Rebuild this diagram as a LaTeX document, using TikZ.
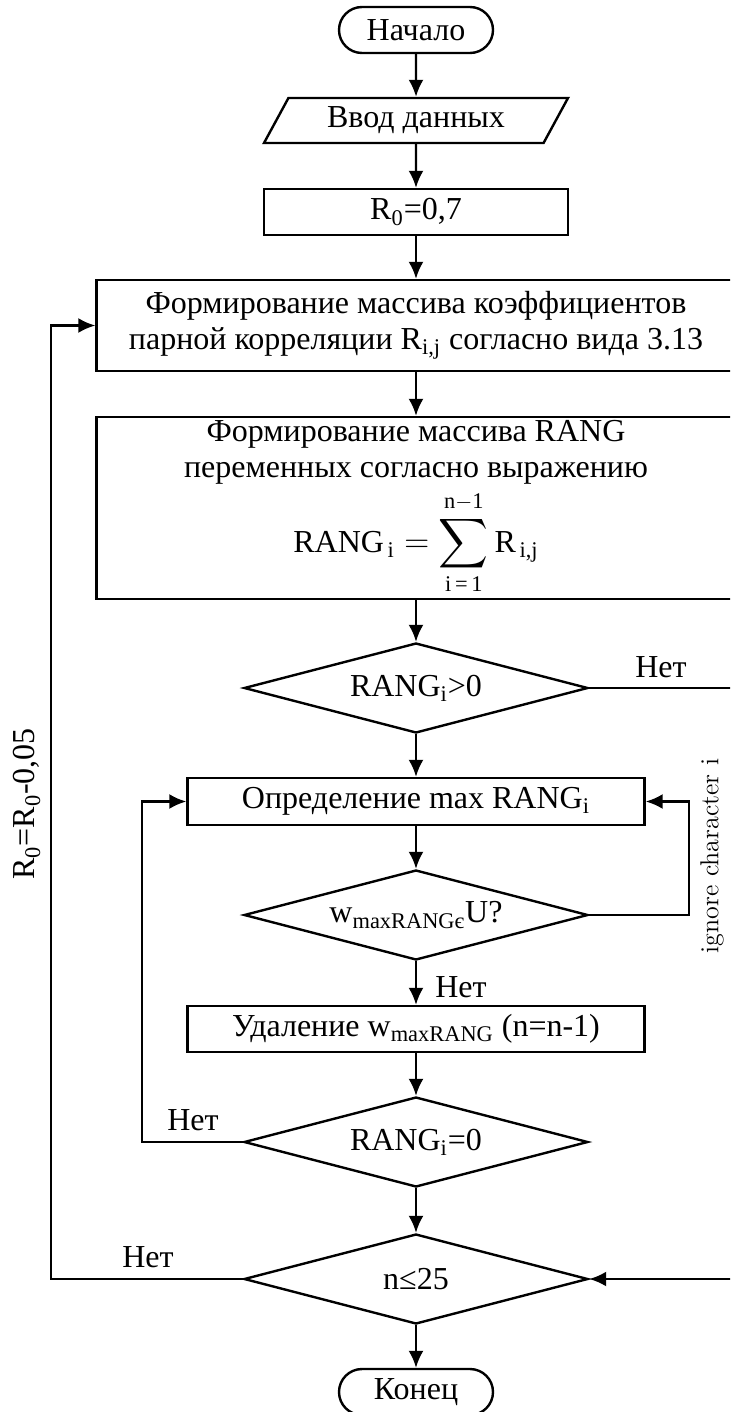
\documentclass[tikz,border=0pt]{standalone}
\usepackage{amsmath}
\usepackage{fontspec}
\setmainfont{Liberation Serif}
\usetikzlibrary{arrows.meta,shapes.geometric}

\begin{document}
\begin{tikzpicture}[x=0.5pt,y=-0.5pt,
  every node/.style={font=\fontsize{16}{18}\selectfont},
  blk/.style={draw,line width=1.2pt,inner sep=0pt},
  term/.style={blk,minimum width=77pt,minimum height=23pt,rounded corners=11.5pt},
  io/.style={blk,trapezium,trapezium left angle=48,trapezium right angle=132,trapezium stretches body,minimum width=152pt,minimum height=22.5pt},
  proc/.style={blk,minimum height=23pt},
  cond/.style={blk,diamond,aspect=3.8,minimum width=172pt,minimum height=45pt},
  flow/.style={line width=1.2pt,-{Latex[length=8.5pt,width=7.5pt]}}]

\useasboundingbox (0,0) rectangle (730,1412);
\clip (0,0) rectangle (730,1412);

\node[term] (start) at (416,30) {Начало};
\node[io] (input) at (416,120.5) {Ввод данных};
\node[proc,minimum width=152pt] (r0) at (416,212) {R\textsubscript{0}=0,7};
\node[proc,minimum width=319.5pt,minimum height=45.5pt,align=center] (corr) at (416,325.5) {Формирование массива коэффициентов\\парной корреляции R\textsubscript{i,j} согласно вида 3.13};
\node[proc,minimum width=319.5pt,minimum height=91pt,align=center] (rang) at (416,508) {Формирование массива RANG\\переменных согласно выражению\\[2pt]$\displaystyle\text{RANG}_{\,\text{i}}=\sum_{\text{i\,=\,1}}^{\text{n}-\text{1}}\text{R}_{\,\text{i,j}}$};
\node[cond] (pos) at (416,688) {RANG\textsubscript{i}>0};
\node[proc,minimum width=228.5pt,minimum height=23.5pt] (maxr) at (416,801.5) {Определение max RANG\textsubscript{i}};
\node[cond] (inu) at (416,915) {w\textsubscript{maxRANGє}U?};
\node[proc,minimum width=228.5pt] (del) at (416,1029) {Удаление w\textsubscript{maxRANG} (n=n-1)};
\node[cond] (zero) at (416,1142) {RANG\textsubscript{i}=0};
\node[cond] (cnt) at (416,1279) {n≤25};
\node[term] (stop) at (416,1392) {Конец};

\coordinate (rgt) at (740,0);
\coordinate (lp) at (689,0);
\coordinate (inl) at (142,0);
\coordinate (outl) at (51,0);

\path[flow] (start) edge (input) (input) edge (r0) (r0) edge (corr) (corr) edge (rang)
  (rang) edge (pos) (pos) edge (maxr) (maxr) edge (inu) (inu) edge (del)
  (del) edge (zero) (zero) edge (cnt) (cnt) edge (stop);

\draw[flow] (pos.east) -- (pos.east -| rgt) -- (cnt.east -| rgt) -- (cnt.east);
\draw[flow] (inu.east) -- (inu.east -| lp) -- (maxr.east -| lp) -- (maxr.east);
\draw[flow] (zero.west) -- (zero.west -| inl) -- (maxr.west -| inl) -- (maxr.west);
\draw[flow] (cnt.west) -- (cnt.west -| outl) -- (corr.west -| outl) -- (corr.west);

\node (no1) at (661,667) {Нет};
\node (no2) at (461,987) {Нет};
\node (no3) at (193,1120) {Нет};
\node (no4) at (148,1257) {Нет};
\node[rotate=90] (dec) at (27,804) {R\textsubscript{0}=R\textsubscript{0}-0,05};
\node[rotate=90,font=\fontfamily{lmr}\fontsize{13}{15}\selectfont] (ign) at (712,856) {ignore character i};

\end{tikzpicture}
\end{document}
